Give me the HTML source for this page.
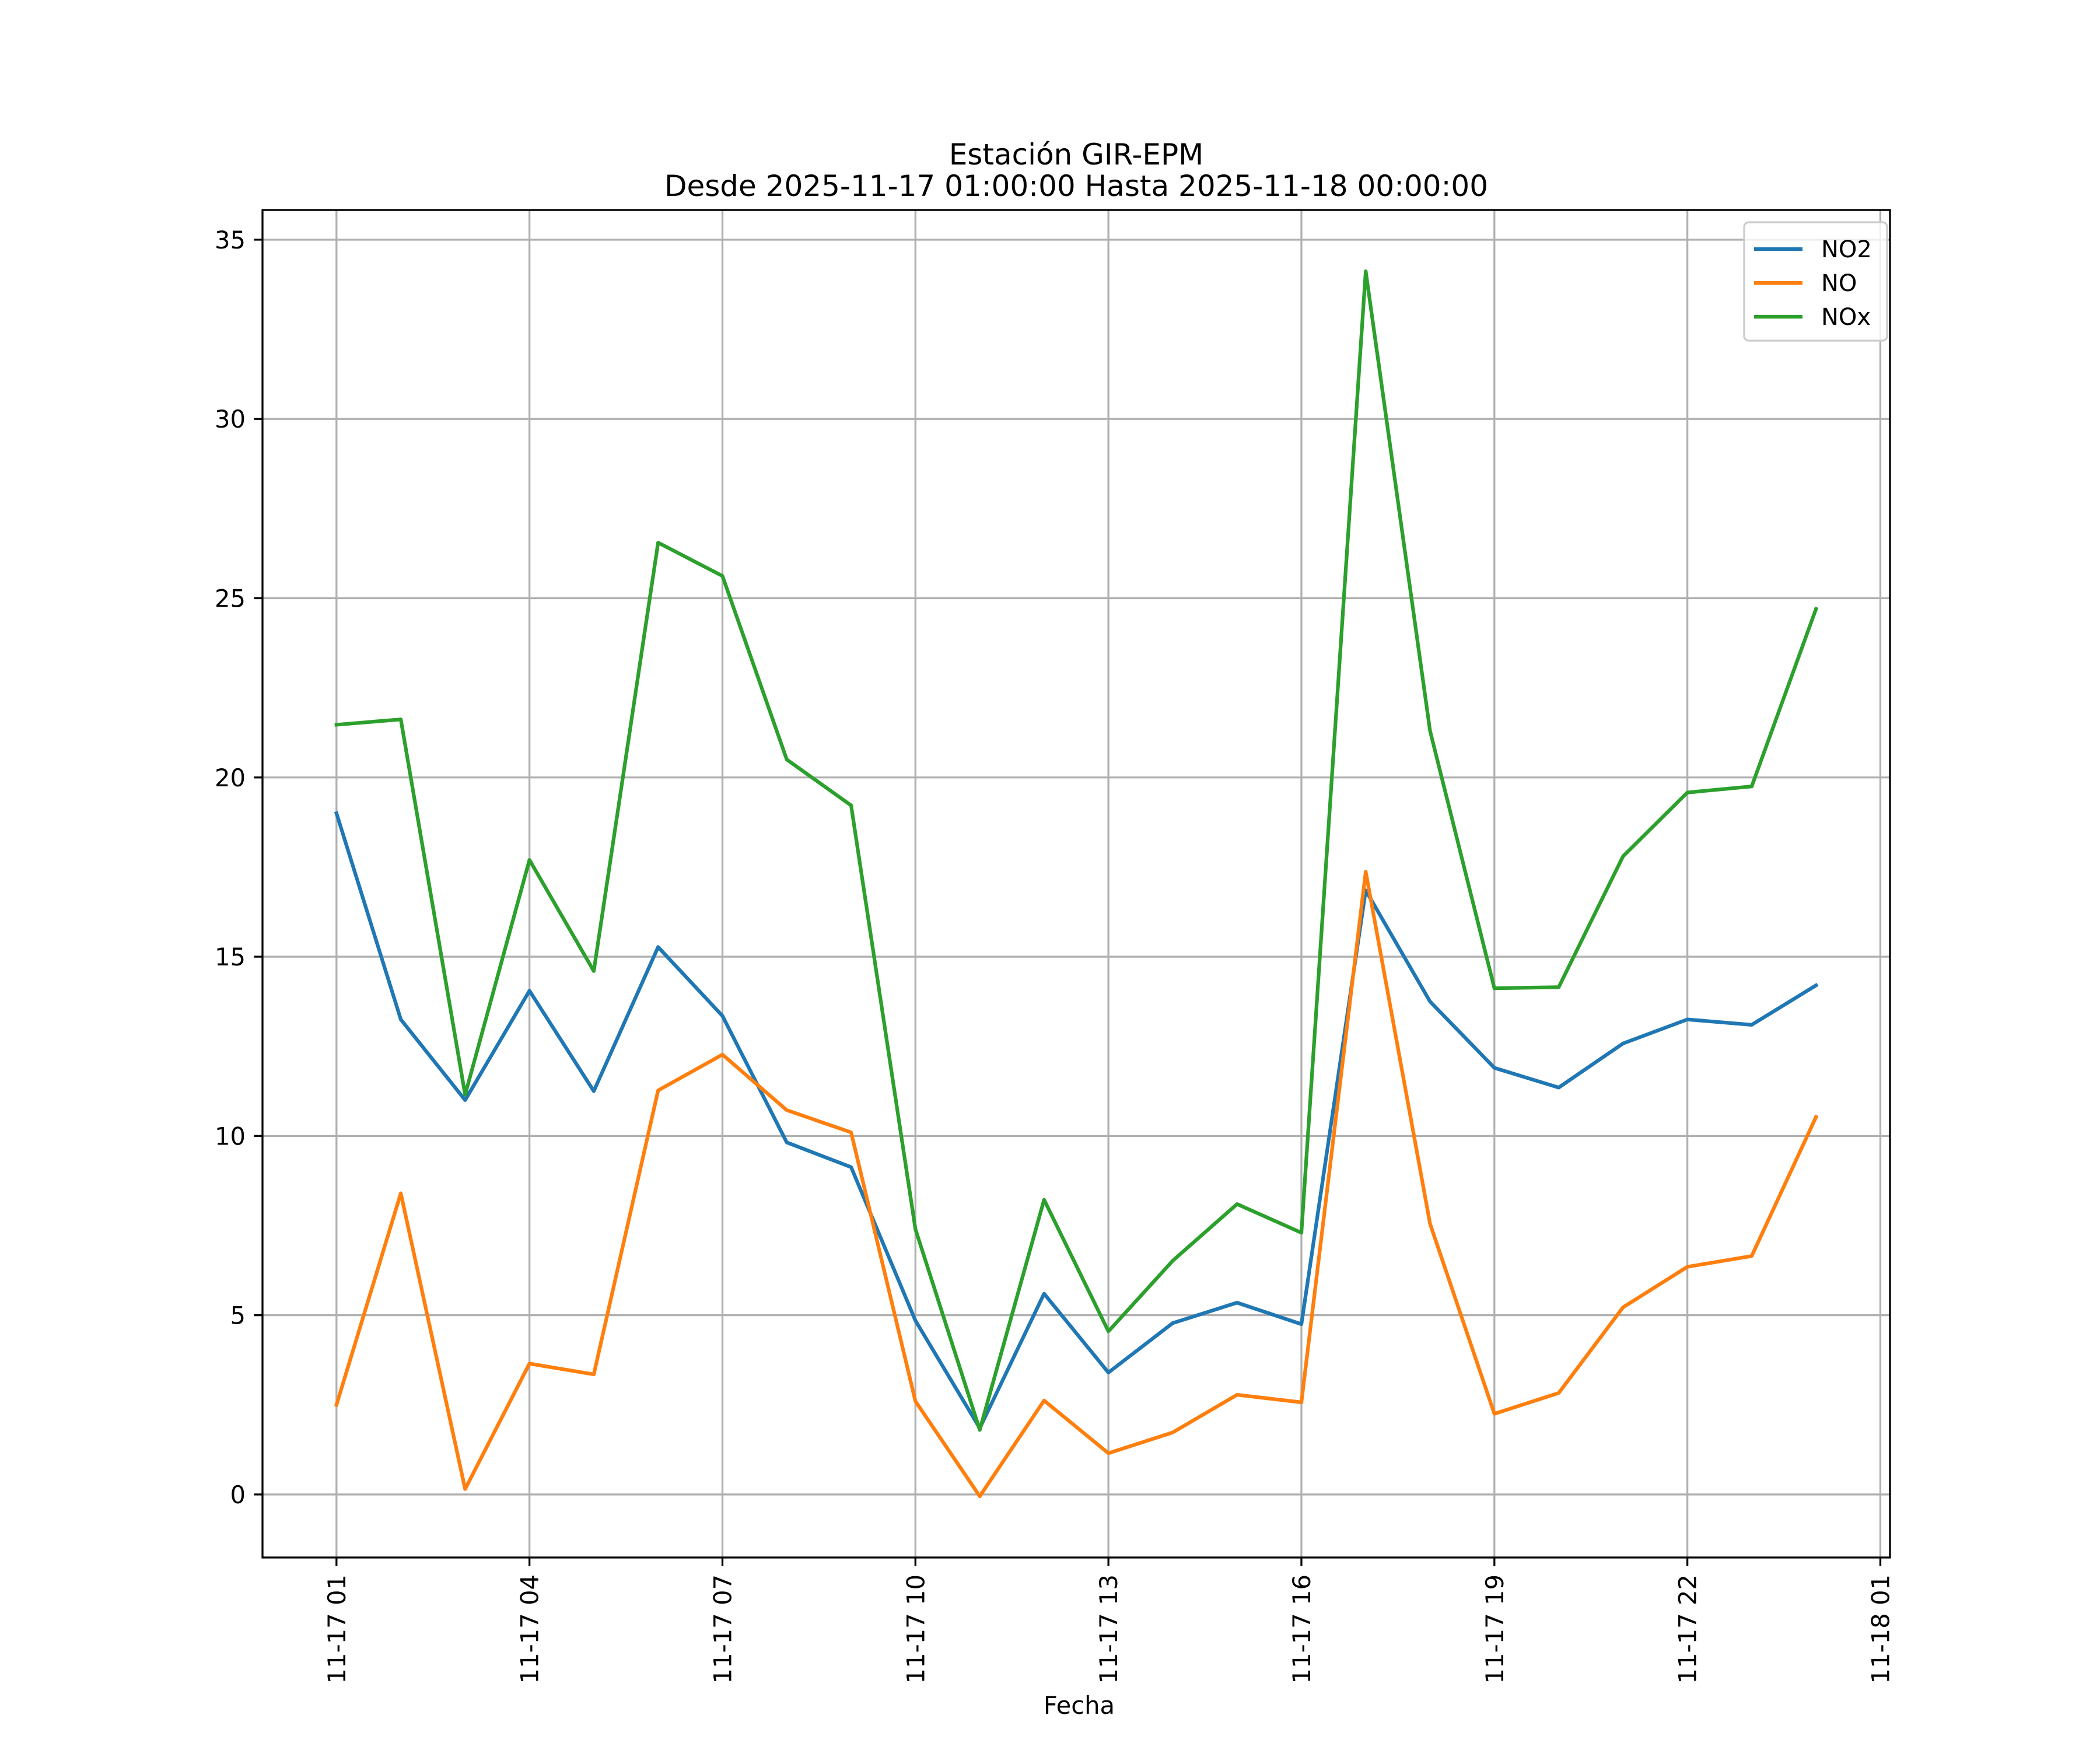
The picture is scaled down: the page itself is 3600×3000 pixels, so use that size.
<!DOCTYPE html>
<html><head><meta charset="utf-8"><style>
html,body{margin:0;padding:0;background:#fff;}
svg{display:block;font-family:"DejaVu Sans","Liberation Sans",sans-serif;}
</style></head><body>
<svg id="chart" width="3600" height="3000" viewBox="0 0 3600 3000">
<rect width="3600" height="3000" fill="#fff"/>
<g id="grid"></g>
<g id="series"></g>
<rect x="450" y="360" width="2790" height="2310" fill="none" stroke="#000" stroke-width="3.3"/>
<g id="axes"></g>
<text x="1845" y="282" font-size="50" text-anchor="middle">Estación GIR-EPM</text>
<text x="1845" y="336" font-size="50" text-anchor="middle">Desde 2025-11-17 01:00:00 Hasta 2025-11-18 00:00:00</text>
<text x="1850" y="2938" font-size="41.7" text-anchor="middle">Fecha</text>
<g id="legend"></g>
</svg>
<script>
const hours = [1,2,3,4,5,6,7,8,9,10,11,12,13,14,15,16,17,18,19,20,21,22,23,24];
const no2 = [19.0,13.25,11.0,14.05,11.25,15.27,13.35,9.82,9.13,4.85,1.85,5.6,3.4,4.78,5.35,4.75,16.85,13.75,11.9,11.35,12.58,13.25,13.1,14.2];
const no = [2.5,8.4,0.15,3.65,3.35,11.27,12.27,10.72,10.1,2.6,-0.05,2.62,1.15,1.73,2.78,2.57,17.37,7.55,2.25,2.83,5.22,6.35,6.65,10.53];
const nox = [21.47,21.62,11.15,17.7,14.6,26.55,25.62,20.5,19.22,7.4,1.8,8.22,4.55,6.52,8.1,7.3,34.12,21.3,14.12,14.15,17.8,19.58,19.75,24.7];
const xTickHours = [1,4,7,10,13,16,19,22,25];
const xTickLabels = ["11-17 01","11-17 04","11-17 07","11-17 10","11-17 13","11-17 16","11-17 19","11-17 22","11-18 01"];
const yTicks = [0,5,10,15,20,25,30,35];
const seriesNames = ["NO2","NO","NOx"];
const seriesColors = ["#1f77b4","#ff7f0e","#2ca02c"];

const L=450,R=3240,T=360,B=2670;
const allV=no2.concat(no,nox);
const vmin=Math.min(...allV), vmax=Math.max(...allV);
const ymin=vmin-0.05*(vmax-vmin), ymax=vmax+0.05*(vmax-vmin);
const hmin=hours[0]-0.05*(hours[hours.length-1]-hours[0]);
const hmax=hours[hours.length-1]+0.05*(hours[hours.length-1]-hours[0]);
const sx=h=>L+(h-hmin)/(hmax-hmin)*(R-L);
const sy=v=>B-(v-ymin)/(ymax-ymin)*(B-T);
const NS="http://www.w3.org/2000/svg";
function mk(tag,attrs,parent){const e=document.createElementNS(NS,tag);for(const k in attrs)e.setAttribute(k,attrs[k]);parent.appendChild(e);return e;}
const grid=document.getElementById('grid'),axes=document.getElementById('axes'),ser=document.getElementById('series'),leg=document.getElementById('legend');
xTickHours.forEach((h,i)=>{const x=sx(h);
 const g=mk('line',{x1:x,x2:x,y1:T,y2:B,stroke:'#b0b0b0','stroke-width':3.3},grid);
 
 
 const t=mk('line',{x1:x,x2:x,y1:B,y2:B+14.6,stroke:'#000','stroke-width':3.3},axes);
 
 
 const tx=mk('text',{x:0,y:0,'font-size':41.7,'text-anchor':'end',transform:`translate(${x+15},${B+29}) rotate(-90)`},axes);
 tx.textContent=xTickLabels[i];
 
 
});
yTicks.forEach(v=>{const y=sy(v);
 const g=mk('line',{x1:L,x2:R,y1:y,y2:y,stroke:'#b0b0b0','stroke-width':3.3},grid);
 
 
 const t=mk('line',{x1:L-14.6,x2:L,y1:y,y2:y,stroke:'#000','stroke-width':3.3},axes);
 
 
 const tx=mk('text',{x:L-29,y:y+15,'font-size':41.7,'text-anchor':'end'},axes);
 tx.textContent=String(v);
 
 
});
[no2,no,nox].forEach((vals,i)=>{
 const p=mk('polyline',{points:vals.map((v,j)=>sx(hours[j])+','+sy(v)).join(' '),fill:'none',stroke:seriesColors[i],'stroke-width':6.25,'stroke-linejoin':'round','stroke-linecap':'square'},ser);
 
 
});
const lb=mk('rect',{x:2990,y:381,width:245,height:203,rx:8,fill:'#fff','fill-opacity':0.8,stroke:'#ccc','stroke-width':3.3},leg);


seriesNames.forEach((n,i)=>{const y=427+i*58;
 const l=mk('line',{x1:3007,x2:3090,y1:y,y2:y,stroke:seriesColors[i],'stroke-width':6.25},leg);
 
 
 const t=mk('text',{x:3122,y:y+14,'font-size':40},leg);
 t.textContent=n;
 
 
});
</script>
</body></html>
